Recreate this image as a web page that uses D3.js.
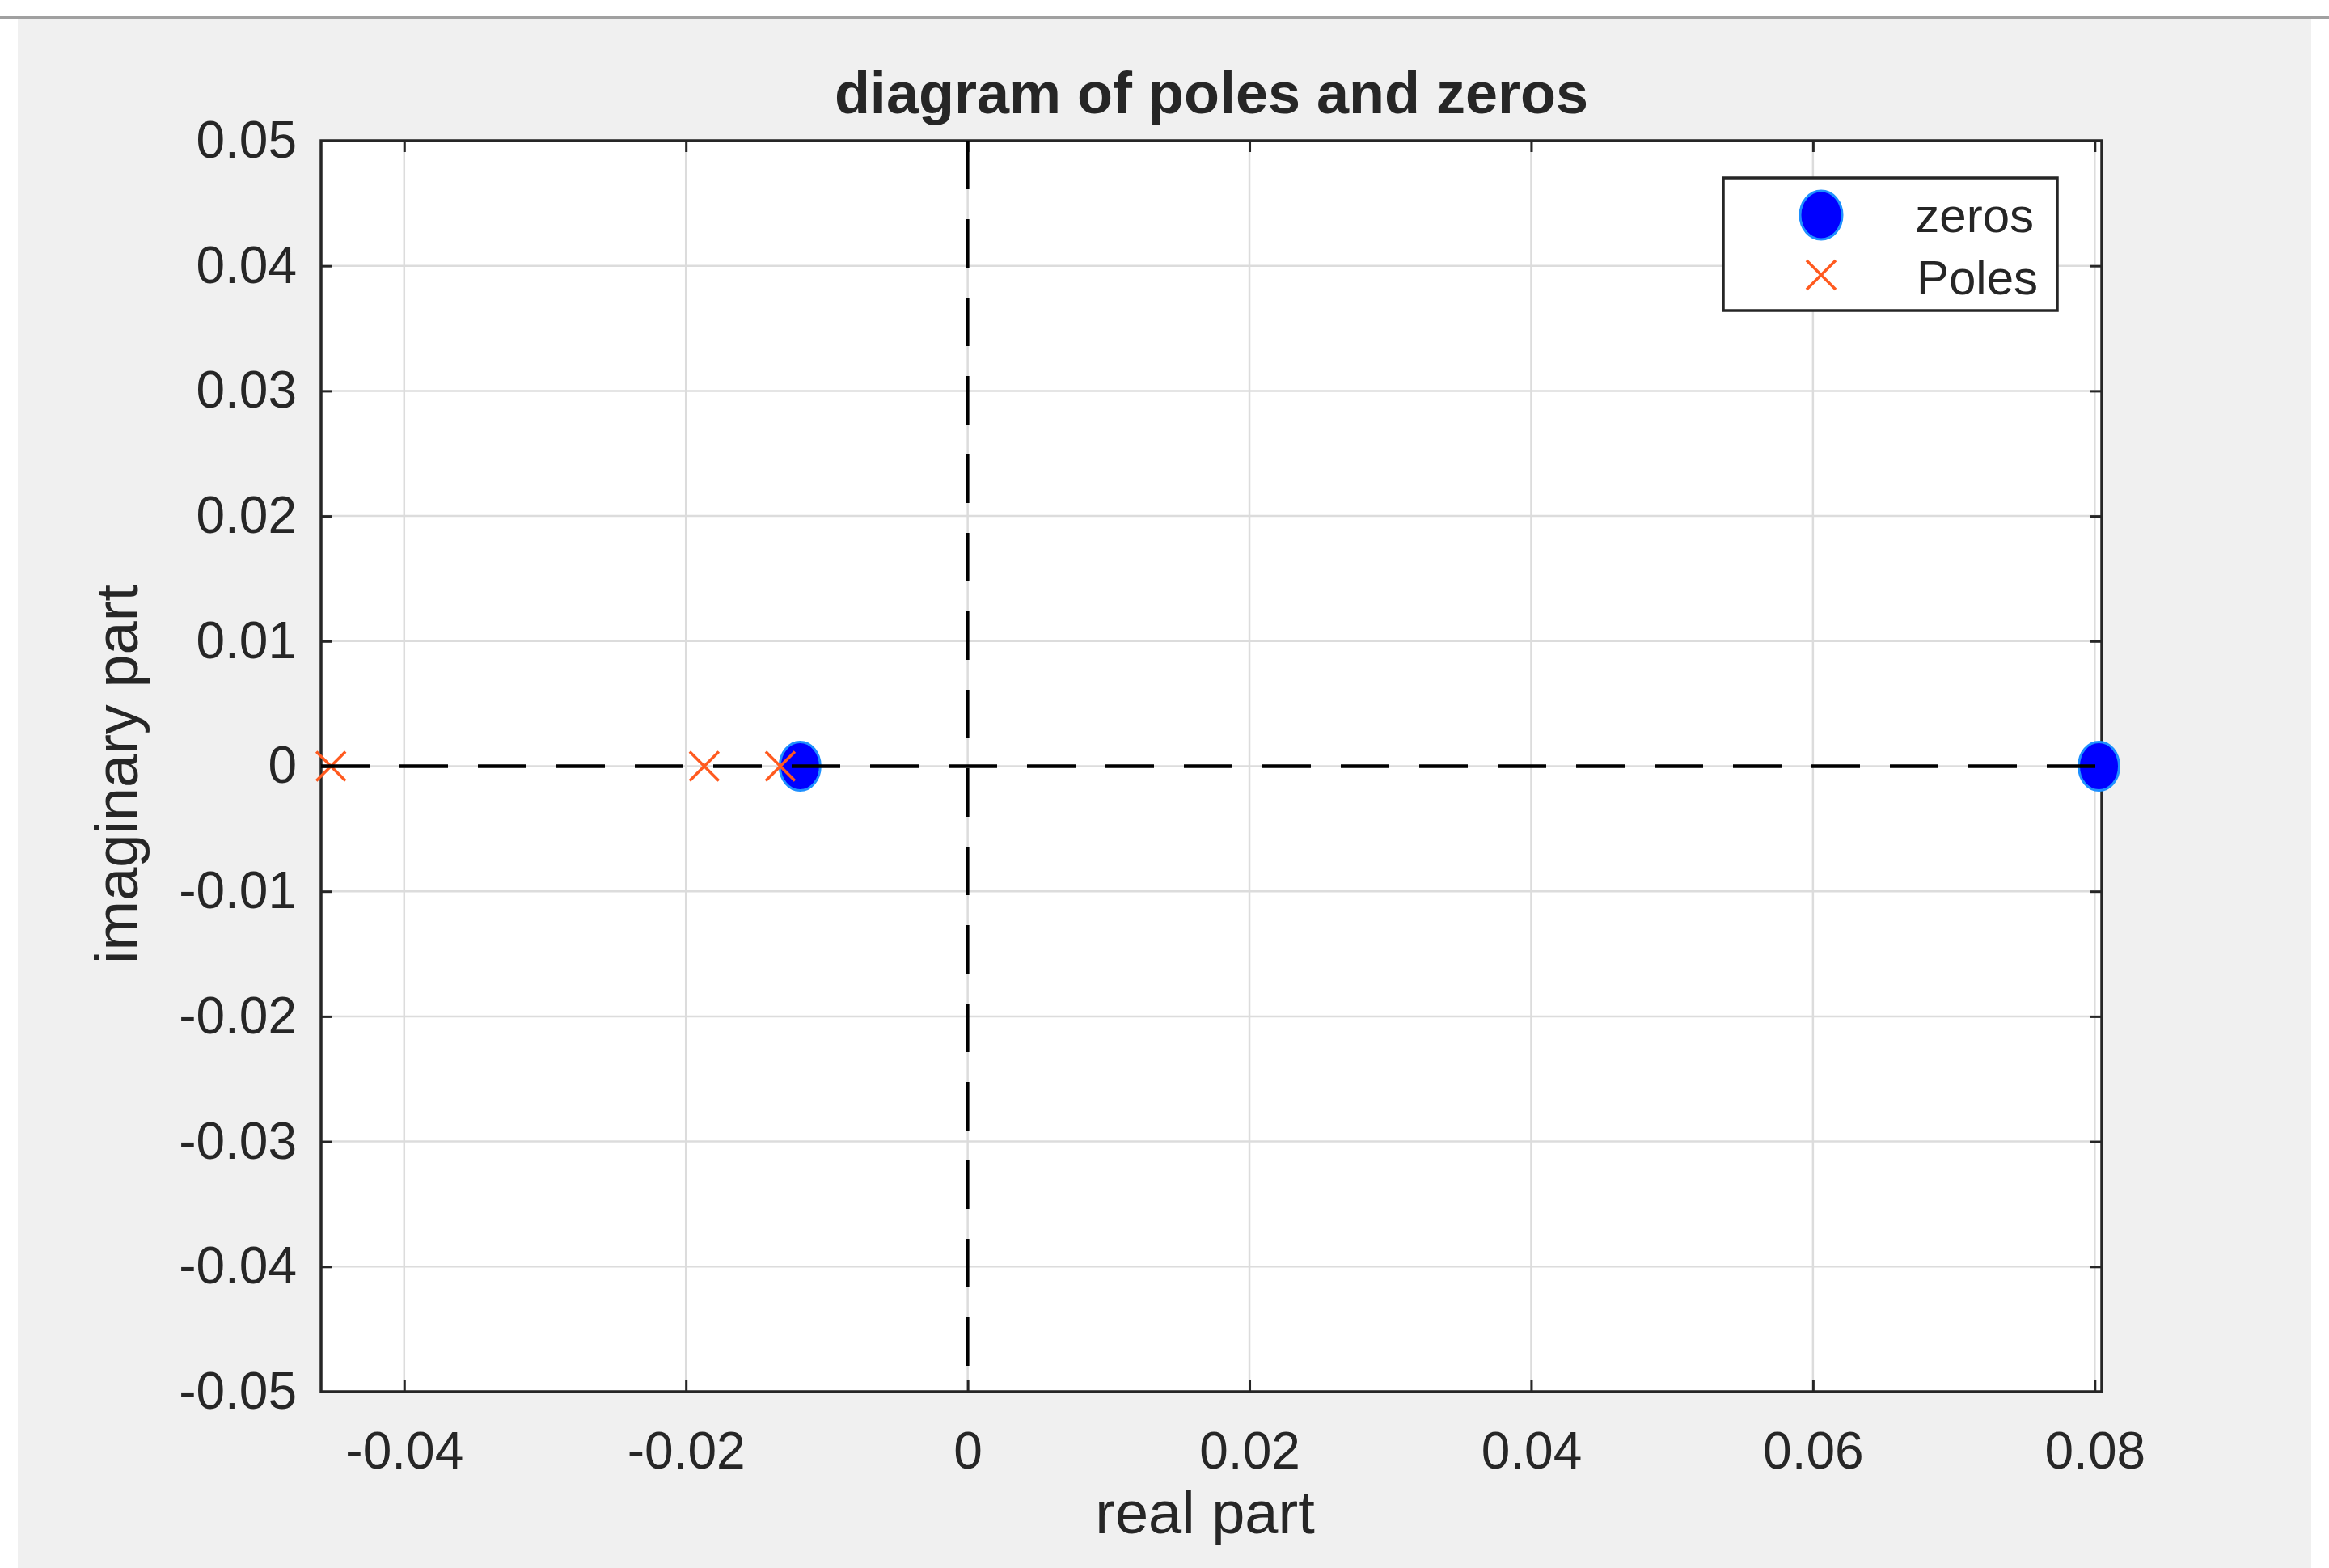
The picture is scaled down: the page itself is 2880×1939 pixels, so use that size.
<!DOCTYPE html>
<html>
<head>
<meta charset="utf-8">
<script src="https://cdn.jsdelivr.net/npm/d3@7"></script>
<style>
  body { margin: 0; background: #fff; }
  text { font-family: "Liberation Sans", Arial, sans-serif; fill: #262626; }
</style>
</head>
<body>
<div id="chart"></div>
<script>
const WIDTH = 2880
const HEIGHT = 1939

// data
const ZEROS_RE = [-0.0119, 0.0803]
const ZEROS_IM = [0, 0]
const POLES_RE = [-0.0452, -0.0187, -0.0133]
const POLES_IM = [0, 0, 0]
const XTICKS = [-0.04, -0.02, 0, 0.02, 0.04, 0.06, 0.08]
const YTICKS = [-0.05, -0.04, -0.03, -0.02, -0.01, 0, 0.01, 0.02, 0.03, 0.04, 0.05]
const XDOMAIN = [-0.0459, 0.0805]
const YDOMAIN = [-0.05, 0.05]

const LEFT = 397, RIGHT = 2599, TOP = 174, BOTTOM = 1721

const svg = d3.select("#chart").append("svg")
  .attr("width", WIDTH).attr("height", HEIGHT)

// figure background
svg.append("rect").attr("x", 22).attr("y", 22).attr("width", WIDTH - 44).attr("height", HEIGHT - 22)
  .attr("fill", "#f0f0f0")
svg.append("line").attr("x1", 0).attr("x2", WIDTH).attr("y1", 22).attr("y2", 22)
  .attr("stroke", "#a0a0a0").attr("stroke-width", 4)

const x = d3.scaleLinear().domain(XDOMAIN).range([LEFT, RIGHT])
const y = d3.scaleLinear().domain(YDOMAIN).range([BOTTOM, TOP])

svg.append("rect").attr("x", LEFT).attr("y", TOP).attr("width", RIGHT - LEFT).attr("height", BOTTOM - TOP)
  .attr("fill", "#fff")

// grid
svg.append("g").selectAll("line").data(XTICKS).join("line")
  .attr("x1", d => x(d)).attr("x2", d => x(d)).attr("y1", TOP).attr("y2", BOTTOM)
  .attr("stroke", "#dcdcdc").attr("stroke-width", 2.5)
svg.append("g").selectAll("line").data(YTICKS).join("line")
  .attr("y1", d => y(d)).attr("y2", d => y(d)).attr("x1", LEFT).attr("x2", RIGHT)
  .attr("stroke", "#dcdcdc").attr("stroke-width", 2.5)

// axes
const fmt = d => d === 0 ? "0" : d.toFixed(2)
const xAxis = d3.axisBottom(x).tickValues(XTICKS).tickSize(-14).tickPadding(50).tickFormat(fmt)
const yAxis = d3.axisLeft(y).tickValues(YTICKS).tickSize(-14).tickPadding(30).tickFormat(fmt)
svg.append("g").attr("transform", `translate(0,${BOTTOM})`).call(xAxis)
svg.append("g").attr("transform", `translate(${LEFT},0)`).call(yAxis)
// mirrored ticks
svg.append("g").attr("transform", `translate(0,${TOP})`).call(d3.axisTop(x).tickValues(XTICKS).tickSize(-14).tickFormat(""))
svg.append("g").attr("transform", `translate(${RIGHT},0)`).call(d3.axisRight(y).tickValues(YTICKS).tickSize(-14).tickFormat(""))
svg.selectAll(".domain").remove()
svg.selectAll(".tick line").attr("stroke", "#262626").attr("stroke-width", 3)
svg.selectAll(".tick text").attr("font-size", 64).attr("fill", "#262626")
  .style("font-family", "Liberation Sans, Arial, sans-serif")

svg.append("rect").attr("x", LEFT).attr("y", TOP).attr("width", RIGHT - LEFT).attr("height", BOTTOM - TOP)
  .attr("fill", "none").attr("stroke", "#262626").attr("stroke-width", 3.5)

// dashed reference lines
svg.append("line").attr("x1", x(0)).attr("x2", x(0)).attr("y1", TOP).attr("y2", BOTTOM)
  .attr("stroke", "#000").attr("stroke-width", 4).attr("stroke-dasharray", "60,37")

const zeros = ZEROS_RE.map((r, i) => [r, ZEROS_IM[i]])
const poles = POLES_RE.map((r, i) => [r, POLES_IM[i]])

const cross = (g, cx, cy, s) => {
  g.append("path").attr("d", `M${cx - s},${cy - s}L${cx + s},${cy + s}M${cx - s},${cy + s}L${cx + s},${cy - s}`)
    .attr("stroke", "#ff5a1f").attr("stroke-width", 3.5).attr("fill", "none")
}

svg.append("g").selectAll("ellipse").data(zeros).join("ellipse")
  .attr("cx", d => x(d[0])).attr("cy", d => y(d[1])).attr("rx", 25).attr("ry", 30)
  .attr("fill", "#0000ff").attr("stroke", "#1e90ff").attr("stroke-width", 3)
const pg = svg.append("g")
poles.forEach(d => cross(pg, x(d[0]), y(d[1]), 18))
svg.append("line").attr("x1", LEFT).attr("x2", RIGHT).attr("y1", y(0)).attr("y2", y(0))
  .attr("stroke", "#000").attr("stroke-width", 4.5).attr("stroke-dasharray", "60,37")

// title and labels
svg.append("text").attr("x", (LEFT + RIGHT) / 2).attr("y", 140).attr("text-anchor", "middle")
  .attr("font-size", 72).attr("font-weight", "bold").attr("fill", "#000").text("diagram of poles and zeros")
svg.append("text").attr("x", 1490).attr("y", 1896).attr("text-anchor", "middle")
  .attr("font-size", 74).text("real part")
svg.append("text").attr("transform", `translate(170,${(TOP + BOTTOM) / 2 + 10}) rotate(-90)`)
  .attr("text-anchor", "middle").attr("font-size", 74).text("imaginary part")

// legend
const lg = svg.append("g")
lg.append("rect").attr("x", 2131).attr("y", 220).attr("width", 413).attr("height", 164)
  .attr("fill", "#fff").attr("stroke", "#262626").attr("stroke-width", 3.5)
lg.append("ellipse").attr("cx", 2252).attr("cy", 266).attr("rx", 26).attr("ry", 30)
  .attr("fill", "#0000ff").attr("stroke", "#1e90ff").attr("stroke-width", 3)
cross(lg, 2252, 340, 18)
lg.append("text").attr("x", 2515).attr("y", 287).attr("text-anchor", "end").attr("font-size", 60).text("zeros")
lg.append("text").attr("x", 2520).attr("y", 364).attr("text-anchor", "end").attr("font-size", 60).text("Poles")
</script>
</body>
</html>
